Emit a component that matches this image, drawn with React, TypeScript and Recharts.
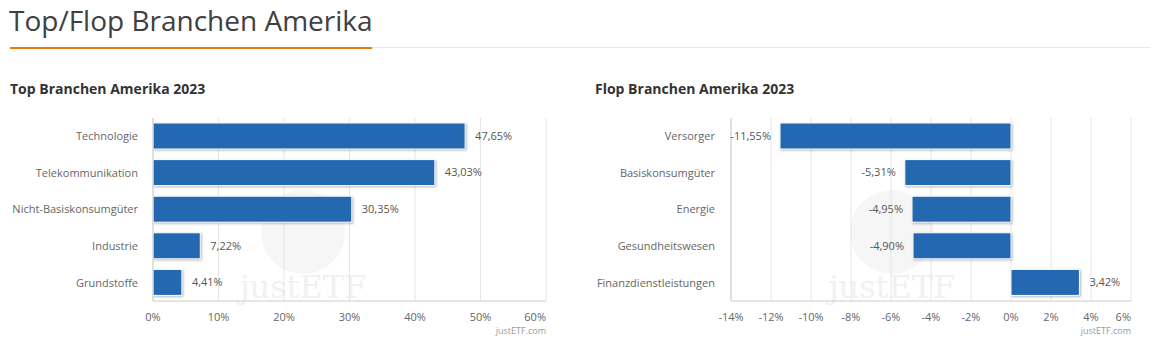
import { BarChart, Bar, XAxis, YAxis, CartesianGrid, LabelList } from 'recharts';

const topCategories = ['Technologie', 'Telekommunikation', 'Nicht-Basiskonsumgüter', 'Industrie', 'Grundstoffe'];
const topValues = [47.65, 43.03, 30.35, 7.22, 4.41];
const topTicks = [0, 10, 20, 30, 40, 50, 60];

const flopCategories = ['Versorger', 'Basiskonsumgüter', 'Energie', 'Gesundheitswesen', 'Finanzdienstleistungen'];
const flopValues = [-11.55, -5.31, -4.95, -4.9, 3.42];
const flopTicks = [-14, -12, -10, -8, -6, -4, -2, 0, 2, 4, 6];

const FONT = '"Open Sans", "Noto Sans", sans-serif';
const BAR_COLOR = '#2468b1';

const fmt = (v: number) => v.toFixed(2).replace('.', ',') + '%';

const BarShape = (props: any) => {
    const { x, y, width, height } = props;
    const left = Math.min(x, x + width);
    const w = Math.abs(width);
    return (
        <rect
            x={left}
            y={y}
            width={w}
            height={height}
            fill={BAR_COLOR}
            stroke="#ffffff"
            strokeWidth={1}
            style={{ filter: 'drop-shadow(1px 1px 1px rgba(0,0,0,0.28))' }}
        />
    );
};

const ValueLabel = (props: any) => {
    const { x, y, width, height, value } = props;
    const left = Math.min(x, x + width);
    const right = Math.max(x, x + width);
    const neg = value < 0;
    return (
        <text
            x={neg ? left - 9 : right + 10}
            y={y + height / 2}
            dy="0.35em"
            textAnchor={neg ? 'end' : 'start'}
            fontSize={11}
            fill="#555"
            fontFamily={FONT}
        >
            {fmt(value)}
        </text>
    );
};

const makeTick = (last: number) => (props: any) => {
    const { x, y, payload } = props;
    const isLast = payload.value === last;
    return (
        <text
            x={x}
            y={y}
            dy="0.71em"
            textAnchor={isLast ? 'end' : 'middle'}
            fontSize={11}
            fill="#666"
            fontFamily={FONT}
        >
            {payload.value + '%'}
        </text>
    );
};

function SectorChart({
    categories,
    values,
    ticks,
    domain,
    yWidth,
    rightMargin,
    labelGap,
}: {
    categories: string[];
    values: number[];
    ticks: number[];
    domain: [number, number];
    yWidth: number;
    rightMargin: number;
    labelGap: number;
}) {
    const data = categories.map((name, i) => ({ name, value: values[i] }));
    return (
        <BarChart
            width={570}
            height={250}
            data={data}
            layout="vertical"
            margin={{ top: 18, right: rightMargin, bottom: 19, left: 0 }}
        >
            <CartesianGrid horizontal={false} stroke="#e6e6e6" />
            <XAxis
                type="number"
                domain={domain}
                ticks={ticks}
                interval={0}
                allowDataOverflow
                axisLine={{ stroke: '#cccccc' }}
                tickLine={false}
                tickSize={0}
                tickMargin={12}
                height={30}
                tick={makeTick(ticks[ticks.length - 1])}
            />
            <YAxis
                type="category"
                dataKey="name"
                width={yWidth}
                axisLine={{ stroke: '#cccccc' }}
                tickLine={false}
                tickSize={0}
                tickMargin={labelGap}
                tick={{ fontSize: 11, fill: '#666', fontFamily: FONT }}
            />
            <Bar dataKey="value" barSize={26} shape={BarShape} isAnimationActive={false}>
                <LabelList dataKey="value" content={ValueLabel} />
            </Bar>
        </BarChart>
    );
}

function Watermark({ cx }: { cx: number }) {
    return (
        <g>
            <circle cx={cx} cy={232} r={42} fill="#f6f6f6" />
            <text x={cx} y={298} textAnchor="middle" fontSize={32} fontFamily='"DejaVu Serif", serif' fill="#f1f1f1">
                justETF
            </text>
        </g>
    );
}

export default function App() {
    return (
        <div style={{ position: 'fixed', left: 0, top: 0, width: 1163, height: 357, background: '#fff', fontFamily: FONT }}>
            <svg width={1163} height={357} style={{ position: 'absolute', left: 0, top: 0 }}>
                <Watermark cx={303} />
                <Watermark cx={892} />
            </svg>
            <div style={{ position: 'absolute', left: 9, top: 1, fontSize: 28, color: '#404040', whiteSpace: 'nowrap' }}>
                Top/Flop Branchen Amerika
            </div>
            <div style={{ position: 'absolute', left: 372, top: 47, width: 778, height: 1, background: '#e4e8ef' }} />
            <div style={{ position: 'absolute', left: 10, top: 47, width: 362, height: 2, background: '#e67a0e' }} />
            <div style={{ position: 'absolute', left: 10, top: 79, fontSize: 14, fontWeight: 700, color: '#333' }}>
                Top Branchen Amerika 2023
            </div>
            <div style={{ position: 'absolute', left: 595, top: 79, fontSize: 14, fontWeight: 700, color: '#333' }}>
                Flop Branchen Amerika 2023
            </div>
            <div style={{ position: 'absolute', left: 0, top: 100 }}>
                <SectorChart
                    categories={topCategories}
                    values={topValues}
                    ticks={topTicks}
                    domain={[0, 60]}
                    yWidth={153}
                    rightMargin={24}
                    labelGap={15}
                />
            </div>
            <div style={{ position: 'absolute', left: 580, top: 100 }}>
                <SectorChart
                    categories={flopCategories}
                    values={flopValues}
                    ticks={flopTicks}
                    domain={[-14, 6]}
                    yWidth={151}
                    rightMargin={19}
                    labelGap={16}
                />
            </div>
            <div style={{ position: 'absolute', left: 446, top: 324, width: 100, textAlign: 'right', fontSize: 9, color: '#999' }}>
                justETF.com
            </div>
            <div style={{ position: 'absolute', left: 1031, top: 324, width: 100, textAlign: 'right', fontSize: 9, color: '#999' }}>
                justETF.com
            </div>
        </div>
    );
}
